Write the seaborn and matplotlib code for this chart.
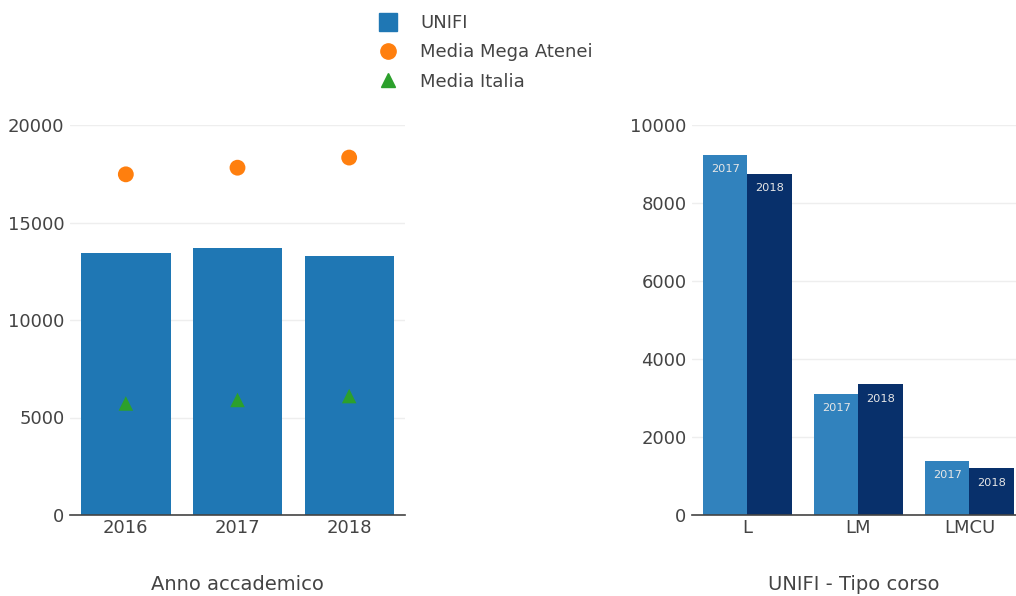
import matplotlib
matplotlib.use("Agg")
import matplotlib.pyplot as plt
import pandas as pd
import seaborn as sns
from matplotlib.lines import Line2D

# left chart: totals per academic year
anni = ["2016", "2017", "2018"]
unifi = [13420, 13710, 13300]
media_mega_atenei = [17470, 17810, 18330]
media_italia = [5720, 5900, 6100]

# right chart: UNIFI by course type
tipo_corso = ["L", "LM", "LMCU"]
unifi_2017 = [9230, 3110, 1385]
unifi_2018 = [8750, 3350, 1195]

W, H = 1016, 596
TEXT = "#444444"
GRID = "#eeeeee"

sns.set_theme(style="white")
plt.rcParams["font.family"] = ["DejaVu Sans"]

fig = plt.figure(figsize=(W / 100, H / 100), dpi=100)


def px_axes(x0, y0, x1, y1):
    # y0/y1 measured from the top of the image
    return fig.add_axes([x0 / W, 1 - y1 / H, (x1 - x0) / W, (y1 - y0) / H])


def style_axes(ax, top, step, title):
    ax.set_ylim(0, top)
    ax.set_yticks(range(0, top + 1, step))
    ax.grid(axis="y", color=GRID, linewidth=1)
    ax.set_axisbelow(True)
    for side in ["top", "right", "left"]:
        ax.spines[side].set_visible(False)
    ax.spines["bottom"].set_color(TEXT)
    ax.spines["bottom"].set_linewidth(1.2)
    ax.tick_params(axis="both", length=0, labelsize=13, colors=TEXT, pad=4)
    ax.tick_params(axis="x", pad=3)
    ax.set_xlabel(title, fontsize=14, color=TEXT, labelpad=27)
    ax.set_ylabel("")


# ---- left chart
ax1 = px_axes(70, 125, 405, 515)
left_df = pd.DataFrame({"anno": anni, "unifi": unifi,
                        "mega": media_mega_atenei, "italia": media_italia})
sns.barplot(data=left_df, x="anno", y="unifi", color="#1f77b4",
            saturation=1, width=0.8, edgecolor="none", ax=ax1)
sns.scatterplot(data=left_df, x="anno", y="mega", color="#ff7f0e", s=130,
                marker="o", edgecolor="none", ax=ax1, zorder=3, clip_on=False)
sns.scatterplot(data=left_df, x="anno", y="italia", color="#2ca02c", s=110,
                marker="^", edgecolor="none", ax=ax1, zorder=3)
ax1.set_xlim(-0.5, 2.5)
style_axes(ax1, 20000, 5000, "Anno accademico")

# ---- right chart
ax2 = px_axes(692, 125, 1016, 515)
right_df = pd.DataFrame({
    "tipo": tipo_corso * 2,
    "anno": ["2017"] * len(tipo_corso) + ["2018"] * len(tipo_corso),
    "valore": unifi_2017 + unifi_2018,
})
sns.barplot(data=right_df, x="tipo", y="valore", hue="anno",
            palette={"2017": "#3182bd", "2018": "#08306b"}, saturation=1,
            width=0.8, edgecolor="none", legend=False, ax=ax2)
ax2.set_xlim(-0.5, 2.42)
for container, anno in zip(ax2.containers, ["2017", "2018"]):
    ax2.bar_label(container, labels=[anno] * len(container), label_type="edge",
                  padding=-14, fontsize=8.2, color="#e6e6e6")
style_axes(ax2, 10000, 2000, "UNIFI - Tipo corso")

# ---- shared legend on top
handles = [
    Line2D([], [], linestyle="none", marker="s", markersize=13,
           color="#1f77b4", label="UNIFI"),
    Line2D([], [], linestyle="none", marker="o", markersize=11,
           color="#ff7f0e", label="Media Mega Atenei"),
    Line2D([], [], linestyle="none", marker="^", markersize=10,
           color="#2ca02c", label="Media Italia"),
]
leg = fig.legend(handles=handles, loc="upper left",
                 bbox_to_anchor=(359 / W, 1 + 2 / H), frameon=False,
                 fontsize=13, labelspacing=0.62, handletextpad=1.1,
                 handlelength=1.4)
for t in leg.get_texts():
    t.set_color(TEXT)

fig.savefig("out.png", dpi=100)
